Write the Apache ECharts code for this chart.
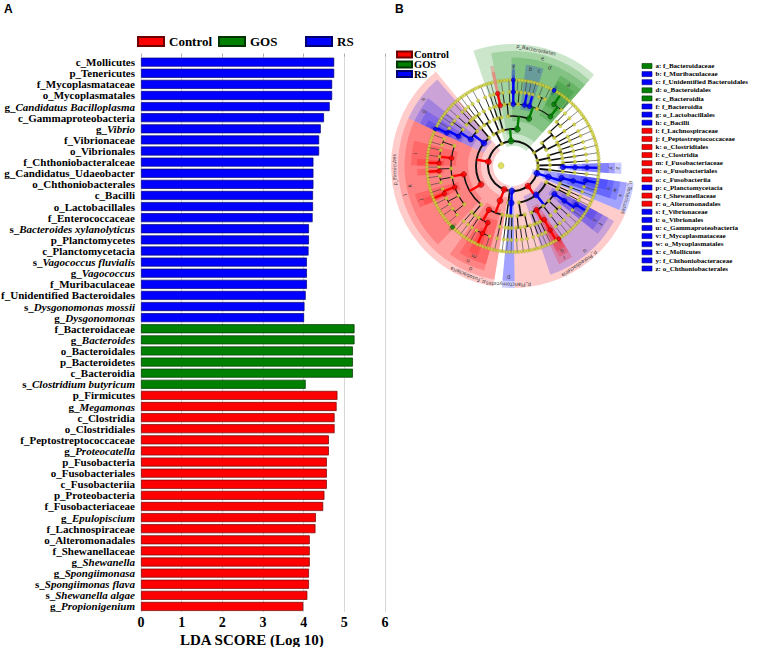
<!DOCTYPE html>
<html>
<head>
<meta charset="utf-8">
<script src="https://cdn.jsdelivr.net/npm/echarts@6/dist/echarts.min.js"></script>
<style>html,body{margin:0;padding:0;background:#fff}#c{width:758px;height:647px}</style>
</head>
<body>
<div id="c"></div>
<script>
// ---------------- Panel A data ----------------
const categories = [
  'c_Mollicutes','p_Tenericutes','f_Mycoplasmataceae','o_Mycoplasmatales','g_Candidatus Bacilloplasma',
  'c_Gammaproteobacteria','g_Vibrio','f_Vibrionaceae','o_Vibrionales','f_Chthoniobacteralceae',
  'g_Candidatus_Udaeobacter','o_Chthoniobacterales','c_Bacilli','o_Lactobacillales','f_Enterococcaceae',
  's_Bacteroides xylanolyticus','p_Planctomycetes','c_Planctomycetacia','s_Vagococcus fluvialis','g_Vagococcus',
  'f_Muribaculaceae','f_Unidentified Bacteroidales','s_Dysgonomonas mossii','g_Dysgonomonas',
  'f_Bacteroidaceae','g_Bacteroides','o_Bacteroidales','p_Bacteroidetes','c_Bacteroidia','s_Clostridium butyricum',
  'p_Firmicutes','g_Megamonas','c_Clostridia','o_Clostridiales','f_Peptostreptococcaceae','g_Proteocatella',
  'p_Fusobacteria','o_Fusobacteriales','c_Fusobacteriia','p_Proteobacteria','f_Fusobacteriaceae','g_Epulopiscium',
  'f_Lachnospiraceae','o_Alteromonadales','f_Shewanellaceae','g_Shewanella','g_Spongiimonasa',
  's_Spongiimonas flava','s_Shewanella algae','g_Propionigenium'
];
const ldaScores = [
  4.75,4.75,4.70,4.70,4.64,
  4.50,4.42,4.38,4.38,4.24,
  4.24,4.24,4.23,4.23,4.22,
  4.13,4.13,4.12,4.08,4.08,
  4.08,4.05,4.02,4.01,
  5.25,5.25,5.21,5.21,5.21,4.05,
  4.83,4.81,4.76,4.76,4.62,4.62,
  4.57,4.57,4.57,4.51,4.48,4.30,
  4.29,4.15,4.15,4.15,4.13,
  4.13,4.09,3.99
];
const barGroups = [].concat(Array(24).fill('RS'), Array(6).fill('GOS'), Array(20).fill('Control'));
const italicLabels = [
  'g_Candidatus Bacilloplasma','g_Vibrio','s_Bacteroides xylanolyticus','s_Vagococcus fluvialis','g_Vagococcus',
  's_Dysgonomonas mossii','g_Dysgonomonas','g_Bacteroides','s_Clostridium butyricum','g_Megamonas',
  'g_Proteocatella','g_Epulopiscium','g_Shewanella','g_Spongiimonasa','s_Spongiimonas flava',
  's_Shewanella algae','g_Propionigenium'
];
const xTicks = [0,1,2,3,4,5,6];

const groupNames = ['Control','GOS','RS'];
const groupColors = ['#ff0000','#008000','#0000ff'];
const groupBorders = ['#6e0000','#003300','#00006e'];
const groupShades = ['rgba(255,0,0,0.2)','rgba(0,128,0,0.2)','rgba(0,0,255,0.2)'];

// ---------------- Panel B (cladogram) data ----------------
// node: [name, group(C/G/R or ''), legend letter, children]; number k = plain chain ending in k species; plain array = unlabeled node
const cladeBacteroidetes = ['p_Bacteroidetes','G','',[
  ['c_Flavobacteriia','','',[1,['f_Flavobacteriaceae','','',[2,['g_Spongiimonasa','C','',[['s_Spongiimonas flava','C','',null]]]]]]],
  ['c_Bacteroidia','G','e',[
    [[3],2],
    ['o_Bacteroidales','G','d',[
      ['f_Bacteroidia','R','f',[['g_Dysgonomonas','R','',[['s_Dysgonomonas mossii','R','',null]]]]],
      [2,1],
      ['f_Muribaculaceae','R','b',[2,1]],
      ['f_Unidentified Bacteroidales','R','c',[2]],
      [3,2],
      ['f_Bacteroidaceae','G','a',[['g_Bacteroides','G','',[['s_Bacteroides xylanolyticus','R','',null],5]],1]]
    ]]
  ]]
]];
const cladeRight = [
  [[[3,2],[4]],[2,2]],
  [[3,2],3],
  ['p_Verrucomicrobia','','',[['c_Verrucomicrobiae','','',[2,['o_Chthoniobacterales','R','z',[['f_Chthoniobacteraceae','R','y',[['g_Candidatus_Udaeobacter','R','',[3]]]]]]]]]],
  2
];
const cladeTenericutes = ['p_Tenericutes','R','',[['c_Mollicutes','R','x',[['o_Mycoplasmatales','R','w',[['f_Mycoplasmataceae','R','v',[['g_Candidatus Bacilloplasma','R','',[3]],2]]]],2]]]];
const cladeProteobacteria = ['p_Proteobacteria','C','',[
  [[2],1],
  ['c_Gammaproteobacteria','R','u',[
    ['o_Vibrionales','R','t',[['f_Vibrionaceae','R','s',[['g_Vibrio','R','',[3]],2]]]],
    [3,2],
    [[2,2]],
    ['o_Alteromonadales','C','r',[['f_Shewanellaceae','C','q',[['g_Shewanella','C','',[['s_Shewanella algae','C','',null],2]]]],1]],
    [2,1]
  ]],
  [[3,2],[2,2]]
]];
const cladePlanctomycetes = ['p_Planctomycetes','R','',[['c_Planctomycetacia','R','p',[2,1]]]];
const cladeFusobacteria = ['p_Fusobacteria','C','',[['c_Fusobacteriia','C','o',[3,['o_Fusobacteriales','C','n',[['f_Fusobacteriaceae','C','m',[[3],['g_Propionigenium','C','',[3]],2]],2]]]]]];
const cladeFirmicutes = ['p_Firmicutes','C','',[
  ['c_Clostridia','C','l',[
    [2,2],
    ['o_Clostridiales','C','k',[
      ['f_Clostridiaceae','','',[['g_Clostridium','','',[['s_Clostridium butyricum','G','',null],4]],1]],
      [3,2],
      ['f_Peptostreptococcaceae','C','j',[['g_Proteocatella','C','',[2]],2]],
      [[3],2],
      ['f_Veillonellaceae','','',[['g_Megamonas','C','',[2]],1]],
      ['f_Lachnospiraceae','C','i',[['g_Epulopiscium','C','',[2]],3,2]],
      [2,3]
    ]]
  ]],
  ['c_Bacilli','R','h',[
    ['o_Lactobacillales','R','g',[['f_Enterococcaceae','R','',[['g_Vagococcus','R','',[['s_Vagococcus fluvialis','R','',null],1]],2]],[2,1]]],
    [3,2]
  ]],
  1
]];
const cladeOther = [[[[2,2],3],[3]]];
const cladeOrder = [].concat([cladeBacteroidetes], cladeRight, [cladeTenericutes, cladeProteobacteria, cladePlanctomycetes, 2, cladeFusobacteria, cladeFirmicutes], cladeOther);

const cladeKeys = [
  'a: f_Bacteroidaceae','b: f_Muribaculaceae','c: f_Unidentified Bacteroidales','d: o_Bacteroidales','e: c_Bacteroidia',
  'f: f_Bacteroidia','g: o_Lactobacillales','h: c_Bacilli','i: f_Lachnospiraceae','j: f_Peptostreptococcaceae',
  'k: o_Clostridiales','l: c_Clostridia','m: f_Fusobacteriaceae','n: o_Fusobacteriales','o: c_Fusobacteriia',
  'p: c_Planctomycetacia','q: f_Shewanellaceae','r: o_Alteromonadales','s: f_Vibrionaceae','t: o_Vibrionales',
  'u: c_Gammaproteobacteria','v: f_Mycoplasmataceae','w: o_Mycoplasmatales','x: c_Mollicutes','y: f_Chthoniobacteraceae',
  'z: o_Chthoniobacterales'
];
const cladeKeyGroups = ['GOS','RS','RS','GOS','GOS','RS','RS','RS','Control','Control','Control','Control','Control','Control','Control','RS','Control','Control','RS','RS','RS','RS','RS','RS','RS','RS'];

// ---------------- cladogram layout ----------------
const LEVEL_R = [12, 25, 37, 50, 62, 74, 86];
const BAND_OUT = [0, 122, 115, 108.5, 102, 96, 91];
const NODE_SIZE_PLAIN = [6, 3.5, 3.6, 3.6, 3.6, 3.4, 3.2];
const NODE_SIZE_MARK = [6, 6, 6, 5.5, 5, 4.6, 4.2];
const EDGE_W = [2, 1.9, 1.6, 1.2, 0.9, 0.6];
const START_ANGLE = 341;
const GI = {C:0, G:1, R:2};

function mk(name, grp, letter, level){ return {name, grp, letter, level, children: []}; }
function build(item, level){
  if (typeof item === 'number') {
    if (level >= 6) { const out = []; for (let i = 0; i < item; i++) out.push(mk('', '', '', 6)); return out; }
    const n = mk('', '', '', level); n.children = build(item, level + 1); return [n];
  }
  if (typeof item[0] === 'string') {
    const n = mk(item[0], item[1], item[2], level);
    n.children = item[3] ? item[3].flatMap(k => build(k, level + 1)) : [];
    return [n];
  }
  const n = mk('', '', '', level); n.children = item.flatMap(k => build(k, level + 1)); return [n];
}
const root = mk('root', '', '', 0);
root.children = cladeOrder.flatMap(it => build(it, 1));
function countLeaves(n){ return n.children.length ? n.children.reduce((s, c) => s + countLeaves(c), 0) : 1; }
const totalLeaves = countLeaves(root);
const step = 360 / totalLeaves;
let slotCounter = 0;
function place(n){
  if (!n.children.length) { n.s0 = n.s1 = slotCounter; n.theta = START_ANGLE + (slotCounter + 0.5) * step; slotCounter++; return; }
  n.children.forEach(place);
  const f = n.children[0], l = n.children[n.children.length - 1];
  n.s0 = f.s0; n.s1 = l.s1; n.theta = (f.theta + l.theta) / 2;
}
place(root);
root.theta = 272;
const allNodes = [];
(function walk(n){ allNodes.push(n); n.children.forEach(walk); })(root);

const sectorItems = allNodes.filter(n => n.grp && n.level > 0).sort((a, b) => a.level - b.level);
const sectorData = sectorItems.map(n => [LEVEL_R[n.level] - 5, BAND_OUT[n.level], START_ANGLE + n.s0 * step, START_ANGLE + (n.s1 + 1) * step, GI[n.grp]]);

const edgeData = [];
allNodes.forEach(n => {
  if (!n.children.length) return;
  const l = n.level;
  if (l === 0) { edgeData.push([1, LEVEL_R[1], 0, 0, 360, -1, EDGE_W[0]]); return; }
  const colored = n.grp ? GI[n.grp] : -1;
  edgeData.push([0, LEVEL_R[l], LEVEL_R[l + 1], n.theta, 0, colored, colored >= 0 ? 2.4 : EDGE_W[l]]);
  if (n.children.length > 1) {
    edgeData.push([1, LEVEL_R[l + 1], 0, n.children[0].theta, n.children[n.children.length - 1].theta, -1, EDGE_W[l]]);
  }
});
edgeData.sort((a, b) => (a[5] >= 0) - (b[5] >= 0));

const nodeItems = allNodes.slice().sort((a, b) => (a.grp ? 1 : 0) - (b.grp ? 1 : 0));
const nodeData = nodeItems.map(n => ({
  value: [LEVEL_R[n.level], ((n.theta % 360) + 360) % 360],
  symbolSize: n.grp ? NODE_SIZE_MARK[n.level] : NODE_SIZE_PLAIN[n.level],
  itemStyle: n.grp
    ? {color: groupColors[GI[n.grp]], borderColor: groupBorders[GI[n.grp]], borderWidth: 0.6}
    : {color: '#d8d83a', borderColor: '#8f8f1c', borderWidth: 0.4}
}));

const labelItems = sectorItems.filter(n => n.level === 1 || n.letter).map(n => ({
  text: n.level === 1 ? n.name : n.letter,
  r: BAND_OUT[n.level] - 3.3,
  theta: START_ANGLE + (n.s0 + n.s1 + 1) / 2 * step
}));
const labelData = labelItems.map(o => [o.r, ((o.theta % 360) + 360) % 360]);

// ---------------- render helpers ----------------
function pix(api, r, t){ return api.coord([r, ((t % 360) + 360) % 360]); }
function renderSector(params, api){
  const c = api.coord([0, 0]);
  const r0 = api.value(0), r1 = api.value(1), t0 = api.value(2), t1 = api.value(3), g = api.value(4);
  const pA = pix(api, r1, t0), pB = pix(api, r0, t0);
  const R1 = Math.hypot(pA[0] - c[0], pA[1] - c[1]);
  const R0 = Math.hypot(pB[0] - c[0], pB[1] - c[1]);
  const a0 = Math.atan2(pA[1] - c[1], pA[0] - c[0]);
  return {type: 'sector', shape: {cx: c[0], cy: c[1], r0: R0, r: R1, startAngle: a0, endAngle: a0 + (t1 - t0) * Math.PI / 180, clockwise: true},
          style: {fill: groupShades[g]}};
}
function renderEdge(params, api){
  const c = api.coord([0, 0]);
  const type = api.value(0), r1 = api.value(1), r2 = api.value(2), t1 = api.value(3), t2 = api.value(4), g = api.value(5), w = api.value(6);
  const color = g >= 0 ? groupColors[g] : (w < 0.8 ? '#3a3a3a' : '#111');
  if (type === 0) {
    const p1 = pix(api, r1, t1), p2 = pix(api, r2, t1);
    return {type: 'line', shape: {x1: p1[0], y1: p1[1], x2: p2[0], y2: p2[1]}, style: {stroke: color, lineWidth: w}};
  }
  const p = pix(api, r1, t1);
  const rp = Math.hypot(p[0] - c[0], p[1] - c[1]);
  const a0 = Math.atan2(p[1] - c[1], p[0] - c[0]);
  return {type: 'arc', shape: {cx: c[0], cy: c[1], r: rp, startAngle: a0, endAngle: a0 + (t2 - t1) * Math.PI / 180, clockwise: true},
          style: {stroke: color, lineWidth: w, fill: null}};
}
function renderLabel(params, api){
  const o = labelItems[params.dataIndex];
  const p = pix(api, api.value(0), api.value(1));
  return {type: 'text', x: p[0], y: p[1], rotation: -o.theta * Math.PI / 180,
          style: {text: o.text, fontSize: o.text.length > 1 ? 5 : 5.5, fontFamily: 'DejaVu Sans', fill: '#3a3a3a', align: 'center', verticalAlign: 'middle'}};
}

// ---------------- options ----------------
const serif = 'Liberation Serif';
const italicSet = new Set(italicLabels);
const barSeries = groupNames.map((g, gi) => ({
  name: g, type: 'bar', xAxisIndex: 0, yAxisIndex: 0, barWidth: 9, barGap: '-100%',
  itemStyle: {color: groupColors[gi], borderColor: groupBorders[gi], borderWidth: 0.7},
  data: ldaScores.map((v, i) => barGroups[i] === g ? v : null),
  z: 2
}));

const keyGraphics = cladeKeys.map((k, i) => {
  const gi = groupNames.indexOf(cladeKeyGroups[i]);
  return {type: 'group', x: 642, y: 63.5 + i * 8.1, children: [
    {type: 'rect', shape: {x: 0, y: 0, width: 10, height: 5}, style: {fill: groupColors[gi], stroke: groupBorders[gi], lineWidth: 0.6}},
    {type: 'text', x: 13.5, y: 2.6, style: {text: k, fontFamily: serif, fontWeight: 'bold', fontSize: 7, fill: '#000', verticalAlign: 'middle'}}
  ]};
});

const legendText = {fontFamily: serif, fontWeight: 'bold', fontSize: 13, color: '#000'};
const legendTextB = {fontFamily: serif, fontWeight: 'bold', fontSize: 10.5, color: '#000', lineHeight: 9.5, padding: [0,0,0,-3]};
const cladoLegendTops = [49, 59, 68.5];
const option = {
  animation: false,
  backgroundColor: '#fff',
  title: {text: 'LDA SCORE (Log 10)', left: 180, top: 632, padding: 0,
          textStyle: {fontFamily: serif, fontWeight: 'bold', fontSize: 15, color: '#000', lineHeight: 15}},
  legend: [
    {data: ['Control'], left: 137, top: 35, padding: 0, icon: 'rect', itemWidth: 26, itemHeight: 9, textStyle: legendText, selectedMode: false},
    {data: ['GOS'], left: 218, top: 35, padding: 0, icon: 'rect', itemWidth: 26, itemHeight: 9, textStyle: legendText, selectedMode: false},
    {data: ['RS'], left: 305, top: 35, padding: 0, icon: 'rect', itemWidth: 26, itemHeight: 9, textStyle: legendText, selectedMode: false}
  ].concat(groupNames.map((g, i) => ({
    data: [g], left: 396, top: cladoLegendTops[i], padding: 0, icon: 'rect', itemWidth: 15, itemHeight: 6,
    textStyle: legendTextB, selectedMode: false
  }))),
  grid: {left: 141, top: 56.6, width: 244, height: 555.4, containLabel: false, outerBoundsMode: 'none'},
  xAxis: [
    {type: 'value', min: xTicks[0], max: xTicks[xTicks.length - 1], interval: 1, position: 'bottom',
     axisLine: {show: false}, axisTick: {show: false},
     axisLabel: {show: true, margin: 3, fontFamily: serif, fontWeight: 'bold', fontSize: 14, lineHeight: 14, color: '#000'},
     splitLine: {show: true, lineStyle: {type: 'dotted', color: '#b0b0b0', width: 1}}},
    {type: 'value', min: xTicks[0], max: xTicks[xTicks.length - 1], interval: 1, position: 'top',
     axisLine: {show: false}, axisTick: {show: true, length: 3, lineStyle: {color: '#aaa'}},
     axisLabel: {show: false}, splitLine: {show: false}}
  ],
  yAxis: {type: 'category', data: categories, inverse: true,
    axisLine: {show: false}, axisTick: {show: false}, splitLine: {show: false},
    axisLabel: {margin: 6, interval: 0,
      formatter: v => italicSet.has(v) ? '{p|' + v.slice(0, 2) + '}{i|' + v.slice(2) + '}' : '{p|' + v + '}',
      rich: {
        p: {fontFamily: serif, fontWeight: 'bold', fontSize: 11, color: '#000'},
        i: {fontFamily: serif, fontWeight: 'bold', fontStyle: 'italic', fontSize: 11, color: '#000'}
      }}},
  polar: {center: [513, 166], radius: [0, 122]},
  angleAxis: {type: 'value', min: 0, max: 360, startAngle: 90, clockwise: true,
    axisLine: {show: false}, axisTick: {show: false}, axisLabel: {show: false}, splitLine: {show: false}},
  radiusAxis: {type: 'value', min: 0, max: 122,
    axisLine: {show: false}, axisTick: {show: false}, axisLabel: {show: false}, splitLine: {show: false}},
  graphic: [
    {type: 'text', x: 4, y: 3, style: {text: 'A', fontFamily: 'Liberation Sans', fontWeight: 'bold', fontSize: 12, fill: '#000'}},
    {type: 'text', x: 395, y: 3, style: {text: 'B', fontFamily: 'Liberation Sans', fontWeight: 'bold', fontSize: 12, fill: '#000'}}
  ].concat(keyGraphics),
  series: barSeries.concat([
    {type: 'custom', name: 'sectors', coordinateSystem: 'polar', renderItem: renderSector, data: sectorData, z: 1, silent: true},
    {type: 'custom', name: 'edges', coordinateSystem: 'polar', renderItem: renderEdge, data: edgeData, z: 2, silent: true},
    {type: 'scatter', name: 'nodes', coordinateSystem: 'polar', symbol: 'circle', data: nodeData, z: 3, silent: true},
    {type: 'custom', name: 'cladeLabels', coordinateSystem: 'polar', renderItem: renderLabel, data: labelData, z: 4, silent: true}
  ])
};
const chart = echarts.init(document.getElementById('c'), null, {renderer: 'svg'});
chart.setOption(option);
</script>
</body>
</html>
